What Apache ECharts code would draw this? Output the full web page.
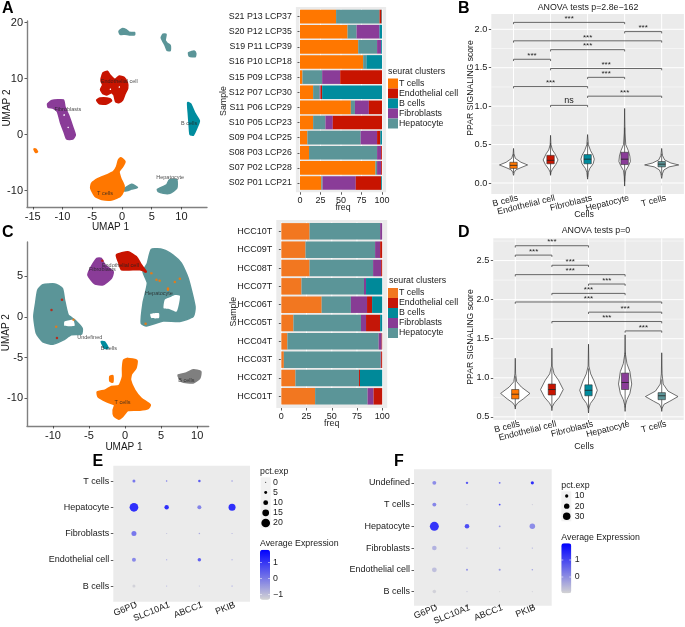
<!DOCTYPE html>
<html><head><meta charset="utf-8">
<style>html,body{margin:0;padding:0;background:#fff}#c{width:685px;height:627px}</style>
<script src="https://cdn.jsdelivr.net/npm/echarts@6/dist/echarts.min.js"></script>
</head><body><div id="c"></div>
<script>
/* ---------- colours ---------- */
const colT='#FF7700', colE='#C81400', colB='#008C9E', colF='#8A3C98', colH='#5B9598', colG='#7f7f7f';
const FONT='"Liberation Sans", Arial, sans-serif';

/* ---------- UMAP panel A: cluster outlines in UMAP units ---------- */
const aHepTop=[[-0.5,18.4],[0,18.9],[0.7,18.7],[1.2,18.25],[2.1,18.2],[2.1,17.8],[1.2,17.8],[0.5,17.9],[-0.3,17.9]];
const aHepMid=[[6.6,17.3],[6.9,17.9],[7.4,17.9],[7.25,16.8],[7.6,16.3],[8.1,15.9],[8.1,15],[7.6,15],[7.25,15.9],[6.9,16.6]];
const aHepRight=[[11.2,14.6],[11.7,14.8],[12.1,14.9],[12.4,14.5],[12.3,13.9],[11.3,14]];
const aHepLow1=[[0.2,-9.8],[1.6,-8.9],[2.6,-9.45],[1.6,-9.75],[0.5,-10.1]];
const aHepLow2=[[5.95,-9.8],[7.5,-9],[7.95,-8.1],[9.2,-8.1],[9.2,-9.6],[8.05,-10.5],[6.95,-10.5],[6.1,-10.2]];
const aEndo1=[[-3.5,10],[-3.15,11.05],[-2.45,11.3],[-2,10.6],[-1.2,9.85],[-0.45,10.45],[0.35,10.2],[0.9,9.25],[0.95,8.25],[0.5,7.25],[0.1,6.15],[-0.45,5.7],[-1.05,5.85],[-1.35,7.05],[-1.75,7.45],[-2.6,7.05],[-3.25,7.35],[-3.6,8.05],[-3.25,8.85],[-3.5,9.45]];
const aEndo2=[[-4.25,6.15],[-3.7,6.5],[-2,6.4],[-1.75,6],[-2.6,5.45],[-3.8,5.5]];
const aFib=[[-12.5,5.45],[-11.8,6.05],[-9.85,6.15],[-9.6,4.95],[-9,3.5],[-8.3,1.4],[-7.85,-0.1],[-8.3,-0.8],[-9.3,-0.8],[-9.75,0.5],[-10.3,2],[-10.85,4.1],[-11.55,4.7],[-12.4,4.85]];
const aB=[[11.05,5.7],[11.55,5.45],[12.25,3.8],[13,2.45],[12.55,1.1],[12,-0.1],[11.45,0],[11.3,1.7],[11.15,3.8]];
const aT=[[-5.25,-9.6],[-5.1,-8.7],[-4,-7.85],[-2.6,-7.25],[-1.45,-6.65],[-0.9,-5.75],[-0.6,-4.55],[-0.2,-4.15],[0.5,-4.85],[0.1,-5.75],[-0.5,-6.65],[-0.2,-7.85],[0.35,-9.2],[0.2,-10.2],[-0.35,-11.1],[-1.75,-11.7],[-3.4,-11.6],[-4.55,-11]];
const aTsmall=[[-14.8,-2.6],[-14.5,-2.6],[-14.2,-3.1],[-14.5,-3.2]];
const aHoles=[[[-2.05,8.15],[-1.85,8.2],[-1.85,7.95],[-2.05,7.95]],[[-0.55,8.55],[-0.35,8.6],[-0.35,8.35],[-0.55,8.35]],[[-9.85,3.55],[-9.6,3.6],[-9.6,3.35],[-9.85,3.35]],[[-9.15,1.35],[-8.95,1.35],[-8.95,1.15],[-9.15,1.15]]];
const aLabels=[['Endothelial cell',-0.45,9.55],['Fibroblasts',-9.1,4.55],['B cells',11.3,1.9],['T cells',-2.85,-10.45],['Hepatocyte',8.1,-7.65]];

/* ---------- UMAP panel C ---------- */
const cHepL=[[-12.1,3.3],[-11.4,3.95],[-9.75,4.05],[-8.7,3.5],[-8.4,2.1],[-7.9,0.25],[-7,-0.35],[-5.95,-1.4],[-6.05,-2.1],[-7.45,-2.2],[-8.6,-2.85],[-10,-3.35],[-11.4,-3.05],[-12.3,-2],[-12.65,0.05],[-12.4,1.7]];
const cHepR=[[3.65,8.3],[5.3,8.25],[6.65,7.6],[7.8,6.6],[8.75,4.75],[9.7,1.25],[9.45,0.05],[7.6,-0.55],[5.3,-0.5],[2.95,-1.1],[2.25,-0.8],[2.5,1.7],[3.1,4.15],[2.5,5.55],[3.1,6.6]];
const cFib=[[-3.9,7.2],[-3.3,7.2],[-2.8,6.4],[-1.65,5.55],[-1.9,4.75],[-3.05,3.95],[-4.2,4.05],[-5.15,5.15],[-4.7,6.15]];
const cEndo=[[-1.2,7.6],[0.4,8],[1.55,7.4],[2.25,6.4],[2.95,5.55],[2.05,5.8],[-0.5,5.8],[-0.85,6.6]];
const cB=[[-3.3,-3.05],[-2.85,-3.05],[-2.35,-3.85],[-2.85,-3.85]];
const cT=[[-0.2,-5.3],[0.4,-5.1],[1.65,-5.35],[1.5,-6.3],[0.9,-7],[0.75,-7.75],[1.35,-9],[2.25,-10],[3.5,-10.8],[3.2,-11.25],[2.05,-11.45],[0.4,-11.5],[-0.35,-12.25],[-0.85,-12.55],[-1.55,-12.15],[-1.65,-11.45],[-1.45,-10.8],[-2.6,-10.4],[-3.75,-9.8],[-3.85,-9.2],[-2.8,-9],[-1.9,-8.55],[-0.85,-8.45],[-0.35,-7.35],[-0.35,-6.3]];
const cTsmall=[[-2.1,-7.3],[-1.7,-7.2],[-1.7,-8],[-2.1,-7.9]];
const cGrey=[[7.35,-7.15],[8.5,-6.9],[9.45,-6.5],[10.5,-6.7],[10.35,-7.55],[9.45,-8.1],[7.85,-7.95]];
const cHoles=[[[-8.4,-0.55],[-7.2,-0.35],[-7,-1.1],[-8.4,-1.1]],[[5.5,2.1],[6.2,2.4],[6.9,2.7],[7.6,2.6],[7.5,1.7],[7.15,0.65],[6.2,0.95],[5.35,1.05]],[[3.5,0.35],[4.7,0.45],[4.7,-0.15],[3.65,-0.15]]];
const cOrangeDots=[[3.65,5.35],[4.35,4.55],[4.8,4.45],[5.95,3.5],[5.95,3.35],[7.6,4.7],[6.9,4.3],[2.85,-0.85],[-7.15,-0.35],[-9.55,-1.2]];
const cRedDots=[[-10.2,0.85],[-8.75,2.1],[-9.45,-2.6],[2.8,5.55],[-3.15,6.9]];
const cLabels=[['Endothelial cell',-0.65,6.35],['Fibroblasts',-3.15,5.8],['Hepatocyte',4.7,2.85],['Undefined',-4.9,-2.55],['B cells',-2.25,-3.9],['T cells',-0.35,-10.5],['B cells',8.5,-7.85]];

/* ---------- stacked bars (bottom row first) ---------- */
const clusterNames=['T cells','Endothelial cell','B cells','Fibroblasts','Hepatocyte'];
const sampA=['S02 P01 LCP21','S07 P02 LCP28','S08 P03 LCP26','S09 P04 LCP25','S10 P05 LCP23','S11 P06 LCP29','S12 P07 LCP30','S15 P09 LCP38','S16 P10 LCP18','S19 P11 LCP39','S20 P12 LCP35','S21 P13 LCP37'];
const aBarT=[26,92,11,9,16,62,16,3,77,71,58,44];
const aBarH=[1.5,2,83,65,15,5,8,24,4,23,11,53];
const aBarF=[40.5,5,5,20,9,17,1,22,0,5,28,0];
const aBarE=[31,1,1,4,60,16,2,51,0,0,0,2.5];
const aBarB=[1,0,0,2,0,0,73,0,19,1,3,0.5];
const sampC=['HCC01T','HCC02T','HCC03T','HCC04T','HCC05T','HCC06T','HCC07T','HCC08T','HCC09T','HCC10T'];
const cBarT=[33.5,14,2.5,6,12,40,20,28,24,28];
const cBarH=[52,63,96,90.5,67,29,62,63,69,70];
const cBarF=[6,0,0.5,3,5,16,2,8,5,2];
const cBarE=[8.5,1,1,0.5,14,5,0,1,2,0];
const cBarB=[0,22,0,0,2,10,16,0,0,0];
const freqTicks=[0,25,50,75,100];

/* ---------- violins: [score, half width], box [low, q1, median, q3, high] ---------- */
const cellCats=['B cells','Endothelial cell','Fibroblasts','Hepatocyte','T cells'];
const bViolins=[
 [[0.45,0],[0.38,0.01],[0.32,0.05],[0.27,0.2],[0.235,0.38],[0.2,0.2],[0.17,0.06],[0.14,0.02],[0.1,0]],
 [[0.62,0],[0.5,0.01],[0.43,0.05],[0.38,0.12],[0.3,0.2],[0.24,0.14],[0.18,0.05],[0.14,0.01],[0.1,0]],
 [[0.63,0],[0.5,0.02],[0.42,0.08],[0.36,0.15],[0.31,0.18],[0.25,0.15],[0.19,0.06],[0.14,0.02],[0.05,0]],
 [[0.97,0],[0.65,0.01],[0.5,0.03],[0.42,0.1],[0.35,0.14],[0.28,0.155],[0.22,0.1],[0.16,0.03],[0.08,0.01],[-0.04,0]],
 [[0.45,0],[0.36,0.02],[0.3,0.08],[0.26,0.25],[0.235,0.46],[0.21,0.2],[0.17,0.06],[0.12,0.02],[0.06,0]]];
const bBoxes=[[0.13,0.19,0.23,0.27,0.38],[0.12,0.25,0.295,0.36,0.52],[0.08,0.25,0.31,0.37,0.53],[0.02,0.24,0.31,0.4,0.72],[0.1,0.21,0.245,0.28,0.38]];
const dViolins=[
 [[1.25,0],[1.05,0.01],[0.95,0.04],[0.88,0.17],[0.8,0.4],[0.73,0.22],[0.68,0.07],[0.64,0.01],[0.6,0]],
 [[1.38,0],[1.15,0.01],[1.05,0.06],[0.97,0.18],[0.85,0.31],[0.75,0.2],[0.68,0.07],[0.63,0.01],[0.58,0]],
 [[1.43,0],[1.15,0.01],[1.05,0.06],[0.96,0.15],[0.84,0.24],[0.74,0.16],[0.67,0.05],[0.61,0.01],[0.55,0]],
 [[1.55,0],[1.3,0.01],[1.18,0.05],[1.08,0.13],[0.92,0.18],[0.8,0.13],[0.72,0.05],[0.65,0.01],[0.57,0]],
 [[1.32,0],[1.05,0.01],[0.92,0.04],[0.83,0.17],[0.76,0.445],[0.7,0.22],[0.66,0.06],[0.61,0.01],[0.57,0]]];
const dBoxes=[[0.63,0.73,0.79,0.85,1.02],[0.62,0.78,0.85,0.92,1.12],[0.6,0.77,0.84,0.91,1.12],[0.62,0.85,0.94,1.06,1.32],[0.6,0.72,0.77,0.81,0.98]];
const boxColors=[colT,colE,colB,colF,colH];
/* brackets: from category, to category, height, label */
const bBrackets=[[1,4,2.09,'***'],[4,5,1.97,'***'],[1,5,1.85,'***'],[2,4,1.735,'***'],[1,2,1.61,'***'],[2,5,1.49,'***'],[3,4,1.375,'***'],[1,3,1.255,'***'],[3,5,1.13,'***'],[2,3,1.01,'ns']];
const dBrackets=[[1,3,2.69,'***'],[1,2,2.57,'***'],[2,3,2.44,'***'],[1,4,2.32,'***'],[3,4,2.2,'***'],[2,4,2.08,'***'],[1,5,1.97,'***'],[3,5,1.84,'***'],[2,5,1.72,'***'],[4,5,1.6,'***']];

/* ---------- dot plots ---------- */
const genes=['G6PD','SLC10A1','ABCC1','PKIB'];
const eCells=['B cells','Endothelial cell','Fibroblasts','Hepatocyte','T cells'];
const ePct=[[5.2,0.3,0.3,0.5],[7.8,0.5,6.5,0.5],[10.4,0.5,1.3,0.5],[20,8.8,7.8,15.6],[5.2,1.3,3.9,1.3]];
const eAvg=[[-1.2,-0.6,-0.8,-0.1],[0.1,-0.2,0.8,-0.2],[0.4,-0.9,-0.5,-0.6],[1.7,1.7,0.2,1.7],[0.4,0.3,0.9,-0.2]];
const eLegendPct=[0,5,10,15,20];
const fCells=['B cells','Endothelial cell','Fibroblasts','Hepatocyte','T cells','Undefined'];
const fPct=[[11,0,0,0],[17,4,4,1.5],[16,0,0,0],[37,16,3,20.5],[13,0,3,0],[13,6,3,9.5]];
const fAvg=[[-0.7,-0.5,-0.8,-0.7],[-0.4,0.3,0.2,0.1],[-0.2,-0.1,0,-0.1],[1.8,1.4,0.2,0.4],[0.5,-0.5,1.4,-0.6],[0.4,1.2,0.9,1.9]];
const fLegendPct=[10,20,30];
const eSize=p=>1+0.385*p, fSize=p=>1.2+0.21*p;

/* ---------- builders ---------- */
const grid=[],xAxis=[],yAxis=[],series=[],graphic=[],legend=[],visualMap=[];
const txt=(text,x,y,size,o={})=>graphic.push({type:'text',x,y,rotation:o.rot||0,z:20,silent:true,
  style:{text,fill:o.color||'#1a1a1a',font:(o.bold?'bold ':'')+size+'px '+FONT,textAlign:o.align||'left',textVerticalAlign:'middle'}});
const bg=(x,y,w,h,c='#ebebeb')=>graphic.push({type:'rect',z:0,silent:true,shape:{x,y,width:w,height:h},style:{fill:c}});
function addGrid(left,top,width,height,xa,ya){
  grid.push({left,top,width,height,containLabel:false});
  xAxis.push(Object.assign({gridIndex:grid.length-1,splitLine:{show:false}},xa));
  yAxis.push(Object.assign({gridIndex:grid.length-1,splitLine:{show:false}},ya));
  return grid.length-1;
}
const tickAxis=(vals,size,o={})=>Object.assign({type:'value',
  axisLine:{show:false},
  axisTick:{show:true,length:2.5,customValues:vals,lineStyle:{color:'#333',width:0.8}},
  axisLabel:{show:true,customValues:vals,fontSize:size,fontFamily:FONT,color:'#1a1a1a',margin:4,showMinLabel:true,showMaxLabel:true},
},o);
function polys(gi,list,color,lw=1.6){
  series.push({type:'custom',xAxisIndex:gi,yAxisIndex:gi,z:3,silent:true,clip:false,
    data:list.map(p=>p[0]),
    renderItem:(params,api)=>({type:'polygon',
      shape:{points:list[params.dataIndex].map(p=>api.coord(p)),smooth:0.18},
      style:{fill:color,stroke:lw?color:null,lineWidth:lw,lineJoin:'round'}})});
}
function scatterLabels(gi,list,size){
  series.push({type:'scatter',xAxisIndex:gi,yAxisIndex:gi,z:6,silent:true,symbolSize:1,itemStyle:{color:'rgba(0,0,0,0)'},
    data:list.map(l=>({name:l[0],value:[l[1],l[2]]})),
    label:{show:true,position:'inside',formatter:'{b}',fontSize:size,fontFamily:FONT,color:'#222'}});
}
function gridLines(gi,xs,ys,minorYs){
  const rows=[];
  xs.forEach(v=>rows.push([v,0,0]));
  ys.forEach(v=>rows.push([0,v,1]));
  (minorYs||[]).forEach(v=>rows.push([0,v,2]));
  series.push({type:'custom',xAxisIndex:gi,yAxisIndex:gi,z:1,silent:true,clip:false,data:rows,
    renderItem:(params,api)=>{
      const cs=params.coordSys,k=api.value(2);
      if(k===0){const px=api.coord([api.value(0),0])[0];
        return {type:'line',shape:{x1:px,y1:cs.y,x2:px,y2:cs.y+cs.height},style:{stroke:'#fff',lineWidth:1}};}
      const py=api.coord([cs.x,api.value(1)])[1];
      return {type:'line',shape:{x1:cs.x,y1:py,x2:cs.x+cs.width,y2:py},style:{stroke:'#fff',lineWidth:k===1?1:0.5}};
    }});
}
function violins(gi,profiles,boxes){
  series.push({type:'custom',xAxisIndex:gi,yAxisIndex:gi,z:4,silent:true,clip:false,
    data:boxes.map((b,i)=>[i+1,b[2]]),
    renderItem:(params,api)=>{
      const i=params.dataIndex,x=i+1,p=profiles[i],b=boxes[i];
      const pts=p.map(q=>api.coord([x+q[1],q[0]])).concat(p.slice(1,-1).reverse().map(q=>api.coord([x-q[1],q[0]])));
      const a=api.coord([x-0.1,b[3]]),c=api.coord([x+0.1,b[1]]),lo=api.coord([x,b[0]]),hi=api.coord([x,b[4]]);
      const m1=api.coord([x-0.1,b[2]]),m2=api.coord([x+0.1,b[2]]);
      return {type:'group',children:[
        {type:'polygon',shape:{points:pts},style:{fill:'#fff',stroke:'#333',lineWidth:0.7,lineJoin:'round'}},
        {type:'line',shape:{x1:lo[0],y1:lo[1],x2:hi[0],y2:hi[1]},style:{stroke:'#333',lineWidth:0.7}},
        {type:'rect',shape:{x:a[0],y:a[1],width:c[0]-a[0],height:c[1]-a[1]},style:{fill:boxColors[i],stroke:'#333',lineWidth:0.6}},
        {type:'line',shape:{x1:m1[0],y1:m1[1],x2:m2[0],y2:m2[1]},style:{stroke:'#222',lineWidth:0.8}}
      ]};
    }});
}
function brackets(gi,list){
  series.push({type:'custom',xAxisIndex:gi,yAxisIndex:gi,z:5,silent:true,clip:false,
    data:list.map(b=>[b[0],b[2]]),
    renderItem:(params,api)=>{
      const b=list[params.dataIndex],p1=api.coord([b[0],b[2]]),p2=api.coord([b[1],b[2]]),tip=1.8;
      return {type:'group',children:[
        {type:'polyline',shape:{points:[[p1[0],p1[1]+tip],p1,p2,[p2[0],p2[1]+tip]]},style:{stroke:'#444',fill:'none',lineWidth:0.8}},
        {type:'text',x:(p1[0]+p2[0])/2,y:p1[1]-(b[3]==='ns'?4.5:3.5),style:{text:b[3],fill:'#222',font:(b[3]==='ns'?'9px ':'8px ')+FONT,textAlign:'center',textVerticalAlign:'middle'}}
      ]};
    }});
}
function stack(gi,vals,cols){
  const order=['T cells','Hepatocyte','Fibroblasts','Endothelial cell','B cells'];
  order.forEach((n,k)=>series.push({type:'bar',name:n,xAxisIndex:gi,yAxisIndex:gi,stack:'s'+gi,barCategoryGap:'10%',z:3,silent:true,
    itemStyle:{color:cols[n]},data:vals[k]}));
}
function barLegend(top,cols){
  legend.push({show:true,left:388,top,orient:'vertical',itemWidth:10,itemHeight:10,itemGap:0,padding:0,selectedMode:false,
    icon:'rect',data:clusterNames.map(n=>({name:n,itemStyle:{color:cols[n]}})),
    textStyle:{fontSize:8.8,fontFamily:FONT,color:'#1a1a1a',padding:[0,0,0,-4],lineHeight:10}});
}
const fmtCat=cats=>v=>cats[v-1]||'';
function dots(gi,cells,pct,avg,sz,vm){
  const rows=[];
  cells.forEach((c,j)=>genes.forEach((g,i)=>rows.push([i,j,avg[j][i],pct[j][i]])));
  series.push({type:'scatter',xAxisIndex:gi,yAxisIndex:gi,z:4,silent:true,data:rows,symbolSize:v=>sz(v[3])});
  visualMap.push(Object.assign({type:'continuous',seriesIndex:series.length-1,dimension:2,show:true,padding:0,
    itemWidth:10,itemHeight:50,calculable:false,hoverLink:false,text:null,showLabel:false,
    inRange:{color:['#d3d3d3','#0000ff']},orient:'vertical'},vm));
}

/* ---------- Panel A UMAP ---------- */
const umapAxisLine={show:true,onZero:false,lineStyle:{color:'#808080',width:1.4}};
let g=addGrid(27,21,180,186,
  tickAxis([-15,-10,-5,0,5,10],11,{min:-15.97,max:14.29,axisLine:umapAxisLine}),
  tickAxis([-10,0,10,20],11,{min:-12.95,max:20.27,axisLine:umapAxisLine}));
polys(g,[aHepTop,aHepMid,aHepRight,aHepLow1,aHepLow2],colH);
polys(g,[aEndo1,aEndo2],colE);
polys(g,[aFib],colF);
polys(g,[aB],colB);
polys(g,[aT,aTsmall],colT);
polys(g,aHoles,'#ffffff',0);
scatterLabels(g,aLabels,5.5);
txt('UMAP 1',110.5,227,10,{align:'center'});
txt('UMAP 2',7,108,10,{align:'center',rot:Math.PI/2});

/* ---------- Panel A bars ---------- */
const colsA={'T cells':colT,'Endothelial cell':colE,'B cells':colB,'Fibroblasts':colF,'Hepatocyte':colH};
bg(295.9,7,90.2,185.2);
g=addGrid(295.9,9,90.2,181.6,
  tickAxis(freqTicks,9,{min:-5,max:105,offset:1.6}),
  {type:'category',data:sampA,axisLine:{show:false},axisTick:{show:true,alignWithLabel:true,length:2.5,lineStyle:{color:'#333',width:0.8}},
   axisLabel:{fontSize:8.8,fontFamily:FONT,color:'#1a1a1a',margin:4,interval:0}});
gridLines(g,freqTicks,[]);
stack(g,[aBarT,aBarH,aBarF,aBarE,aBarB],colsA);
barLegend(78.5,colsA);
txt('seurat clusters',388,71.7,8.8);
txt('freq',343,208,8.8,{align:'center'});
txt('Sample',224,101,8.8,{align:'center',rot:Math.PI/2});

/* ---------- Panel B violin ---------- */
const violinXAxis=(cats,o)=>tickAxis([1,2,3,4,5],9,Object.assign({min:0.4,max:5.6},o,{
  axisLabel:{show:true,customValues:[1,2,3,4,5],fontSize:8.8,fontFamily:FONT,color:'#1a1a1a',margin:5,rotate:14,align:'right',padding:[0,-4.5,0,0],showMinLabel:true,showMaxLabel:true,hideOverlap:false,formatter:fmtCat(cats)}}));
bg(491.3,14,192.6,180);
g=addGrid(491.3,14,192.6,180,violinXAxis(cellCats),
  tickAxis([0,0.5,1,1.5,2],9.2,{min:-0.143,max:2.199,axisLabel:{customValues:[0,0.5,1,1.5,2],fontSize:9.2,fontFamily:FONT,color:'#1a1a1a',margin:4,formatter:v=>v.toFixed(1)}}));
gridLines(g,[1,2,3,4,5],[0,0.5,1,1.5,2],[0.25,0.75,1.25,1.75]);
violins(g,bViolins,bBoxes);
brackets(g,bBrackets);
txt('ANOVA tests p=2.8e\u2212162',588,7.5,8.8,{align:'center'});
txt('Cells',584,215,8.8,{align:'center'});
txt('PPAR SIGNALING score',470.5,88,8.6,{align:'center',rot:Math.PI/2});

/* ---------- Panel C UMAP ---------- */
g=addGrid(27,242,181.7,184,
  tickAxis([-10,-5,0,5,10],11,{min:-13.6,max:11.6,axisLine:umapAxisLine}),
  tickAxis([-10,-5,0,5],11,{min:-13.4,max:9.2,axisLine:umapAxisLine}));
polys(g,[cHepL,cHepR],colH);
polys(g,[cFib],colF);
polys(g,[cEndo],colE);
polys(g,[cB],colB);
polys(g,[cT,cTsmall],colT);
polys(g,[cGrey],colG);
polys(g,cHoles,'#ffffff',0);
series.push({type:'scatter',xAxisIndex:g,yAxisIndex:g,z:5,silent:true,symbolSize:2.5,itemStyle:{color:colT},data:cOrangeDots});
series.push({type:'scatter',xAxisIndex:g,yAxisIndex:g,z:5,silent:true,symbolSize:2.5,itemStyle:{color:colE},data:cRedDots});
scatterLabels(g,cLabels,5.5);
txt('UMAP 1',124,447,10,{align:'center'});
txt('UMAP 2',6.7,332.7,10,{align:'center',rot:Math.PI/2});

/* ---------- Panel C bars ---------- */
const colsC={'T cells':'#F27720','Endothelial cell':'#C41608','B cells':'#008999','Fibroblasts':'#873C94','Hepatocyte':'#5B9598'};
bg(276.3,220,110.9,188);
g=addGrid(276.3,222.2,110.9,183.3,
  tickAxis(freqTicks,9,{min:-5,max:105,offset:2.5}),
  {type:'category',data:sampC,axisLine:{show:false},axisTick:{show:true,alignWithLabel:true,length:2.5,lineStyle:{color:'#333',width:0.8}},
   axisLabel:{fontSize:9,fontFamily:FONT,color:'#1a1a1a',margin:4,interval:0}});
gridLines(g,freqTicks,[]);
stack(g,[cBarT,cBarH,cBarF,cBarE,cBarB],colsC);
barLegend(288,colsC);
txt('seurat clusters',389,281,8.8);
txt('freq',331.7,423.3,8.8,{align:'center'});
txt('Sample',233.3,311.7,8.8,{align:'center',rot:Math.PI/2});

/* ---------- Panel D violin ---------- */
bg(493.3,238.3,190.4,181.7);
g=addGrid(493.3,238.3,190.4,181.7,violinXAxis(cellCats),
  tickAxis([0.5,1,1.5,2,2.5],9.2,{min:0.46,max:2.785,axisLabel:{customValues:[0.5,1,1.5,2,2.5],fontSize:9.2,fontFamily:FONT,color:'#1a1a1a',margin:4,formatter:v=>v.toFixed(1)}}));
gridLines(g,[1,2,3,4,5],[0.5,1,1.5,2,2.5],[0.75,1.25,1.75,2.25,2.75]);
violins(g,dViolins,dBoxes);
brackets(g,dBrackets);
txt('ANOVA tests p=0',596,231,8.8,{align:'center'});
txt('Cells',584,447,8.8,{align:'center'});
txt('PPAR SIGNALING score',471,337,8.6,{align:'center',rot:Math.PI/2});

/* ---------- dot plot axes ---------- */
const dotX=offset=>({type:'category',data:genes,offset,axisLine:{show:false},axisTick:{show:true,alignWithLabel:true,length:2.5,lineStyle:{color:'#333',width:0.8}},
  axisLabel:{interval:0,fontSize:9,fontFamily:FONT,color:'#1a1a1a',rotate:22,margin:4,align:'right',padding:[0,-3,0,0]}});
const dotY=(cats,offset)=>({type:'category',data:cats,offset,axisLine:{show:false},axisTick:{show:true,alignWithLabel:true,length:2.5,lineStyle:{color:'#333',width:0.8}},
  axisLabel:{interval:0,fontSize:9,fontFamily:FONT,color:'#1a1a1a',margin:4}});

/* ---------- Panel E ---------- */
bg(113.3,465.7,136.7,136);
g=addGrid(117.6,467.9,130.8,131.25,dotX(2.55),dotY(eCells,4.3));
dots(g,eCells,ePct,eAvg,eSize,{min:-1.3,max:1.7,left:260,top:549.7});
txt('pct.exp',260,472,8.8);
bg(260.7,477.3,10,50.4,'#f2f2f2');
eLegendPct.forEach((p,i)=>{const y=482.3+i*10.17;
  graphic.push({type:'circle',z:5,silent:true,shape:{cx:265.7,cy:y,r:eSize(p)/2},style:{fill:'#000'}});
  txt(String(p),273,y,8.8);});
txt('Average Expression',260,544,8.8);
[[1,562.7],[0,578.7],[-1,594.7]].forEach(t=>{txt(t[0]<0?'\u22121':String(t[0]),273,t[1],8.8);
  graphic.push({type:'rect',z:8,silent:true,shape:{x:260,y:t[1]-0.3,width:2,height:0.6},style:{fill:'#fff'}},
               {type:'rect',z:8,silent:true,shape:{x:268,y:t[1]-0.3,width:2,height:0.6},style:{fill:'#fff'}});});

/* ---------- Panel F ---------- */
bg(414,469.3,137.7,136.4);
g=addGrid(418,472,130.67,131.7,dotX(2),dotY(fCells,4));
dots(g,fCells,fPct,fAvg,fSize,{min:-0.8,max:1.9,left:561.3,top:543.3});
txt('pct.exp',561.3,486,8.8);
bg(561.3,491.3,10,30,'#f2f2f2');
fLegendPct.forEach((p,i)=>{const y=496+i*10.15;
  graphic.push({type:'circle',z:5,silent:true,shape:{cx:566.7,cy:y,r:fSize(p)/2},style:{fill:'#000'}});
  txt(String(p),574.7,y,8.8);});
txt('Average Expression',561.3,537.7,8.8);
[[1,560],[0,577]].forEach(t=>{txt(String(t[0]),574.7,t[1],8.8);
  graphic.push({type:'rect',z:8,silent:true,shape:{x:561.3,y:t[1]-0.3,width:2,height:0.6},style:{fill:'#fff'}},
               {type:'rect',z:8,silent:true,shape:{x:569.3,y:t[1]-0.3,width:2,height:0.6},style:{fill:'#fff'}});});

/* ---------- panel letters ---------- */
[['A',2,9],['B',458,9],['C',2,233],['D',458,232.5],['E',92.5,462],['F',394,462]].forEach(l=>txt(l[0],l[1],l[2],16,{bold:true,color:'#000'}));

const chart=echarts.init(document.getElementById('c'),null,{renderer:'canvas'});
chart.setOption({animation:false,backgroundColor:'#fff',tooltip:{show:false},grid,xAxis,yAxis,series,legend,visualMap,graphic:{elements:graphic}});
</script></body></html>
